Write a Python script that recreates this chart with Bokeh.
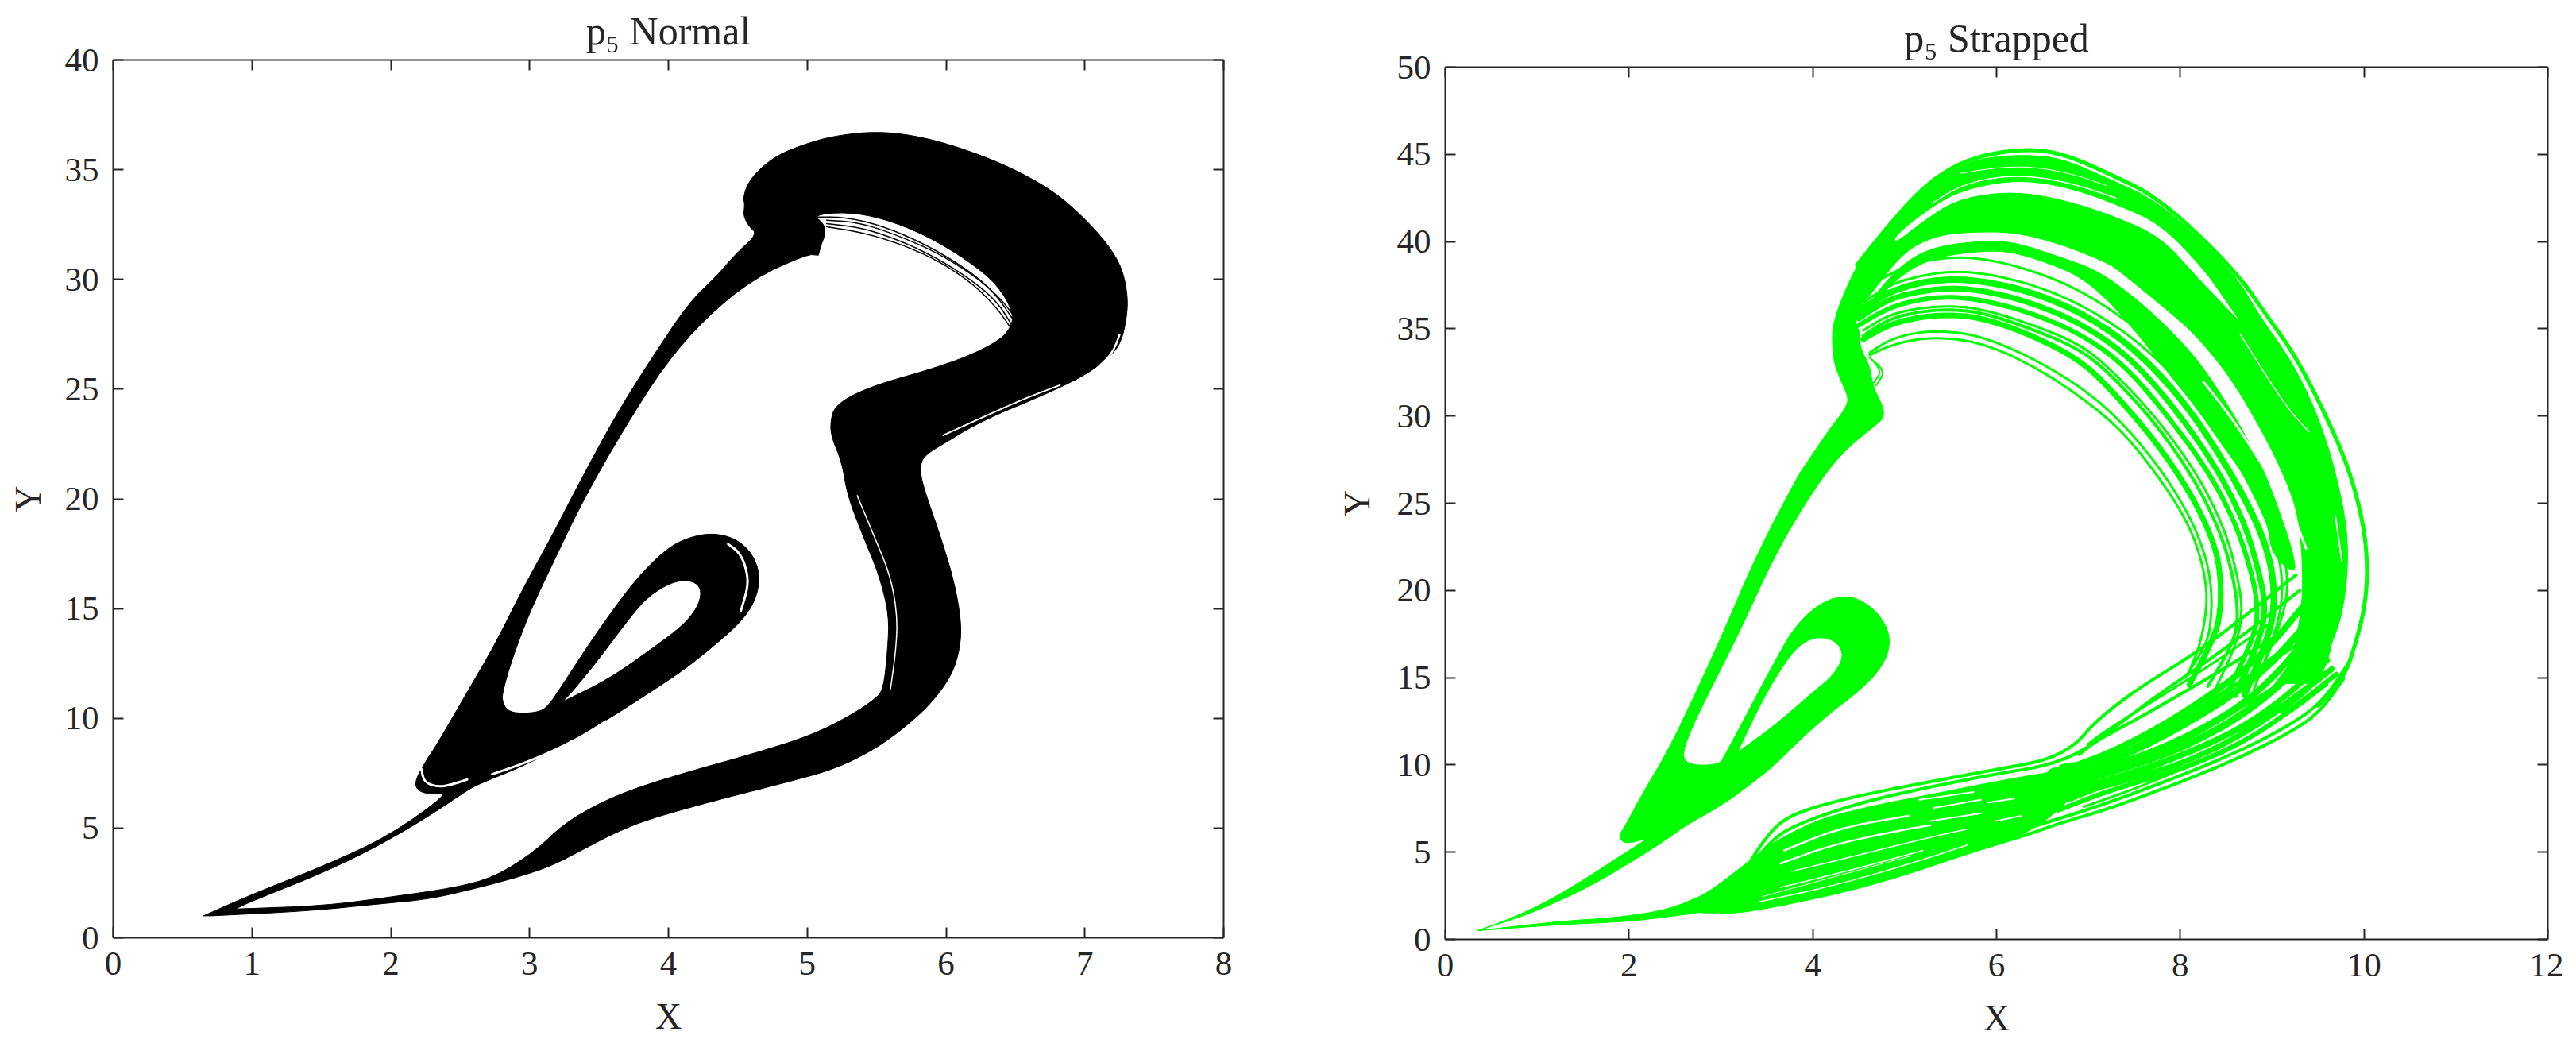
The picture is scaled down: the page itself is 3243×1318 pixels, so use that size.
from bokeh.embed import file_html
from bokeh.resources import INLINE
from bokeh.layouts import row, column
from bokeh.models import Range1d, LinearAxis, FixedTicker, Title
from bokeh.plotting import figure

FONT = "Liberation Serif"
INK = "#262626"
GREEN = "#00ff00"

# ---------- left panel: p5 Normal (outline of the saturated band)
normal_outer = [
    (0.65,1.0),(0.65,1.0),(0.65,1.0),(1.0,1.98),(1.52,3.28),(1.99,4.65),(2.42,6.6),(2.30,6.54),(2.2,6.66),(2.17,7.08),(2.24,7.93),
    (2.34,8.89),(2.55,11.19),(2.75,13.36),(2.95,15.89),(3.16,18.3),(3.36,20.76),(3.62,23.8),(3.86,26.23),
    (4.15,28.97),(4.34,30.1),(4.49,31.2),(4.64,32.06),(4.58,32.42),(4.54,32.9),(4.55,33.39),
    (4.54,33.75),(4.57,34.35),(4.65,35.0),(4.79,35.68),(4.98,36.16),(5.18,36.52),(5.45,36.73),(5.69,36.64),
    (5.96,36.28),(6.27,35.62),(6.53,34.9),(6.78,33.99),(6.98,32.9),(7.17,31.58),(7.27,30.49),(7.31,29.2),
    (7.3,28.2),(7.26,27.1),(7.17,26.4),(6.98,25.55),(6.67,24.64),(6.37,23.86),(6.16,23.2),(6.02,22.65),
    (5.84,21.98),(5.81,21.37),(5.84,20.46),(5.96,18.3),(6.06,16.2),(6.11,14.38),(6.1,13.16),(6.04,11.95),
    (5.9,10.73),(5.72,9.67),(5.49,8.6),(5.2,7.69),(4.85,7.08),(4.32,6.23),(3.86,5.41),(3.62,4.8),(3.39,4.04),
    (3.16,3.28),(2.92,2.77),(2.63,2.28),(2.28,1.76),(1.93,1.55),(1.41,1.22),(0.71,1.0),(0.71,1.0)]
normal_hole_main = [
    (0.88,1.31),(0.88,1.31),(1.52,1.46),(1.99,1.85),(2.46,2.28),(2.75,2.77),(3.04,3.95),(3.24,5.16),(3.49,6.1),(3.77,6.84),
    (4.18,7.63),(4.59,8.35),(5.02,9.2),(5.31,10.12),(5.49,10.88),(5.55,11.34),(5.58,13.16),(5.59,14.68),
    (5.52,16.5),(5.4,18.33),(5.29,20.15),(5.25,21.67),(5.17,22.89),(5.17,23.62),(5.2,24.2),(5.33,24.76),
    (5.55,25.3),(5.86,25.85),(6.16,26.5),(6.37,27.17),(6.46,27.72),(6.49,28.44),(6.37,29.77),(6.16,30.85),
    (5.86,32.0),(5.55,32.78),(5.28,33.08),(5.04,32.93),(5.12,32.55),(5.13,32.06),(5.1,31.58),(5.08,31.1),(5.08,31.1),
    (5.0,31.15),(4.61,30.03),(4.26,28.2),(3.97,26.08),(3.68,23.2),(3.39,20.0),
    (3.16,16.98),(2.99,14.68),(2.87,12.63),(2.81,11.31),(2.8,10.82),(2.84,10.34),(2.93,10.22),
    (3.06,10.28),(3.13,10.52),(3.24,11.55),(3.4,13.12),(3.57,14.68),(3.77,16.37),(3.98,17.7),(4.14,18.24),
    (4.32,18.45),(4.49,18.18),(4.61,17.46),(4.66,16.49),(4.63,15.41),(4.53,14.44),(4.34,13.36),(4.1,12.15),
    (3.81,10.95),(3.57,9.98),(3.28,8.89),(2.95,7.81),(2.64,7.02),(2.55,6.72),(2.3,5.64),(1.93,4.25),(1.52,2.98),
    (1.0,1.67)]
normal_hole_loop = [
    (3.24,10.76),(3.24,10.76),(3.57,11.79),(3.87,13.12),(4.1,14.2),(4.21,15.05),(4.24,15.77),(4.2,16.19),(4.1,16.31),
    (3.98,16.07),(3.83,15.41),(3.69,14.32),(3.49,12.63),(3.32,11.31)]
normal_strands = [
    [(5.04,32.84),(5.28,32.84),(5.55,32.42),(5.86,31.58),(6.16,30.43),(6.35,29.4),(6.48,28.2)],
    [(5.14,32.54),(5.39,32.36),(5.65,31.82),(5.92,31.03),(6.18,30.0),(6.37,28.98),(6.47,27.96)],
    [(5.14,32.7),(5.37,32.6),(5.63,32.06),(5.92,31.28),(6.2,30.19),(6.39,29.16),(6.49,28.32)],
    [(5.14,32.4),(5.41,32.12),(5.69,31.58),(5.96,30.8),(6.2,29.77),(6.37,28.68),(6.46,27.84)]]
normal_gaps = [
    ([(4.43,17.94),(4.52,17.52),(4.57,16.61),(4.57,15.89),(4.52,14.87)], 3),
    ([(2.73,7.45),(2.95,7.93),(3.2,8.59),(3.4,9.26),(3.55,9.86)], 3),
    ([(2.22,7.69),(2.24,7.08),(2.34,6.87),(2.43,6.96),(2.55,7.21)], 3),
    ([(5.98,22.9),(6.27,23.74),(6.57,24.58),(6.82,25.18)], 2),
    ([(7.08,25.9),(7.2,26.63),(7.25,27.48)], 2.5),
    ([(5.36,20.15),(5.48,18.33),(5.6,16.5),(5.65,14.68),(5.64,13.16),(5.6,11.34)], 1.5)]

# ---------- right panel: p5 Strapped
strapped_left_outer = [
    (0.35,0.5),(0.35,0.5),(0.35,0.5),(0.7,1.16),(1.13,2.22),(1.56,3.59),(1.91,4.8),(2.23,5.86),(2.0,5.49),(1.91,5.64),(1.9,6.02),
    (1.97,6.62),(2.14,8.3),(2.43,10.87),(2.72,14.06),(3.01,17.4),(3.38,21.95),(3.85,26.7),(3.95,27.42),
    (4.14,28.94),(4.36,30.45),(4.39,31.06),(4.31,31.97),(4.22,33.19),(4.21,35.4),(4.5,35.4),(4.51,33.95),
    (4.62,32.88),(4.65,31.82),(4.7,31.21),(4.77,30.45),(4.77,29.92),(4.72,29.62),(4.48,28.63),(4.24,27.42),
    (3.94,25.2),(3.58,21.95),(3.21,17.7),(2.89,14.36),(2.72,12.54),(2.6,11.02),(2.59,10.27),(2.72,9.96),
    (2.98,10.04),(3.03,10.42),(3.29,13.0),(3.58,15.88),(3.81,18.0),(4.1,19.37),(4.39,19.75),(4.65,19.07),
    (4.82,17.85),(4.84,16.64),(4.73,15.43),(4.5,14.21),(4.16,12.85),(3.87,11.48),(3.58,9.96),(3.29,8.75),
    (3.01,7.69),(2.6,6.47),(2.49,6.02),(2.14,4.8),(1.56,2.98),(0.99,1.62),(0.7,1.08)]
strapped_loop_hole = [
    (3.18,10.72),(3.18,10.72),(3.58,12.24),(4.01,14.21),(4.22,15.12),(4.33,16.11),(4.3,16.79),(4.19,17.25),(4.01,17.32),
    (3.84,16.79),(3.7,15.88),(3.47,13.91)]
strapped_tail = [
    (0.35,0.5),(0.35,0.5),(1.25,1.04),(1.85,1.24),(2.43,1.69),(2.86,2.68),(2.9,1.62),(2.43,1.3),(2.0,1.02),(1.25,0.85)]
strapped_fan_body = [
    (2.6,2.05),(2.86,2.68),(3.24,4.2),(3.49,5.26),(3.73,6.02),(4.09,6.93),(4.68,7.69),(5.28,8.3),(6.07,9.13),(6.67,9.66),(6.87,9.5),
    (6.87,8.3),(6.35,6.02),(5.68,4.96),(4.88,3.52),(4.09,2.45),(3.29,1.62),(2.7,1.45)]
strapped_knot = [
    (6.5,9.7),(6.9,10.3),(7.1,9.5),(7.0,8.5),(6.8,7.8),(6.5,8.0)]
strapped_mass = [
    (4.21,34.4),(4.22,35.2),(4.31,36.7),(4.51,38.95),(4.82,40.85),(5.16,42.75),(5.5,44.11),(5.85,44.8),
    (6.29,44.98),(6.7,44.79),(7.2,43.66),(7.79,42.22),(8.57,38.34),(8.88,35.6),(9.17,33.48),(9.4,31.21),
    (9.6,28.48),(9.75,25.44),(9.82,23.17),(9.82,20.89),(9.76,18.61),(9.66,17.1),(9.46,14.67),(9.46,14.67),(9.15,14.67),(9.15,14.67),
    (9.26,17.1),(9.33,19.37),(9.33,21.65),(9.29,24.23),(9.14,26.5),(8.88,29.24),(8.54,32.27),(8.16,34.7),
    (7.79,36.37),(7.33,38.34),(7.2,38.8),(6.7,39.86),(6.19,40.55),(5.68,40.55),(5.33,40.32),(4.99,39.41),
    (4.65,37.13),(4.48,35.92),(4.45,34.4)]
strapped_band = [
    (4.55,35.4),(4.65,36.83),(4.99,38.8),(5.33,39.71),(5.85,40.05),(6.19,39.98),(6.7,39.1),(7.1,38.34),(7.5,36.82),(7.88,35.0),
    (8.22,33.03),(8.54,30.45),(8.77,28.32),(8.94,26.5),(9.12,23.92),(9.23,22.1),(9.26,20.89),(9.0,22.0),(8.95,23.92),
    (8.75,26.2),(8.5,28.02),(8.2,30.3),(7.9,32.27),(7.56,34.55),(7.21,36.67),(6.93,37.88),(6.7,38.5),(6.19,39.41),
    (5.85,39.48),(5.33,39.1),(4.99,38.2),(4.7,36.7)]
strapped_slit = [
    (4.9,40.3),(5.2,41.6),(5.55,42.75),(6.0,43.35),(6.4,43.42),(6.85,42.95),(7.3,42.1),(7.79,40.95),(8.25,38.4),
    (8.45,36.9),(8.62,35.6),(8.62,35.6),(8.2,37.9),(7.79,40.3),(7.3,41.45),(6.85,42.25),(6.4,42.78),(6.0,42.85),(5.55,42.4),
    (5.2,41.2),(4.9,39.95)]
strapped_gaps = [
    ([(5.3,42.2),(5.6,43.2),(6.0,43.72),(6.4,43.75),(6.85,43.3),(7.3,42.5)], 1.5),
    ([(5.6,43.9),(6.0,44.26),(6.4,44.3),(6.85,43.85),(7.2,43.2)], 1),
    ([(8.65,34.7),(9.14,30.6),(9.4,29.1)], 1.5),
    ([(8.77,29.39),(9.12,25.9),(9.37,22.4)], 3),
    ([(9.69,24.2),(9.76,21.65)], 2),
    ([(8.25,31.97),(8.57,29.84),(8.94,26.81)], 3),
    ([(2.62,10.72),(2.66,9.96),(2.77,9.58)], 2),
    ([(4.78,18.0),(4.81,16.79),(4.72,15.58)], 1.5),
    ([(1.94,6.09),(2.0,5.65),(2.2,5.57),(2.3,5.7)], 1.5),
    ([(3.69,5.1),(4.29,6.4),(5.04,7.08)], 2.5),
    ([(3.65,4.35),(4.2,5.41),(4.88,6.17),(5.28,6.55)], 2.5),
    ([(3.77,3.9),(4.48,4.8),(5.28,5.87),(5.68,6.32)], 1.5),
    ([(3.65,2.98),(4.48,4.05),(5.2,5.1)], 1.5),
    ([(3.41,2.15),(4.29,3.14),(5.16,4.5),(5.68,5.41)], 1.5),
    ([(3.45,2.45),(4.29,3.67),(5.08,4.8)], 1),
    ([(5.16,8.0),(5.75,8.45)], 2),
    ([(5.32,7.54),(5.83,8.0)], 2),
    ([(5.28,6.78),(5.83,7.23)], 2),
    ([(5.91,7.84),(6.19,8.07)], 2),
    ([(5.99,6.78),(6.27,7.08)], 2),
    ([(6.39,9.66),(6.67,9.96)], 3)]
strapped_arcs = [
    ([(4.48,38.65),(4.82,40.9),(5.16,42.9),(5.5,44.26),(5.85,44.95),(6.29,45.3),(6.7,45.1),(7.2,43.96),(7.79,42.44),
      (8.6,38.34),(8.94,35.76),(9.23,33.64),(9.52,30.75),(9.81,27.4),(9.98,24.23),(10.04,21.65),(10.02,19.37),
      (9.92,17.1),(9.78,14.97),(9.5,13.4)], 5),
    ([(4.62,33.49),(4.82,34.0),(5.1,34.4),(5.44,34.5),(5.85,34.17),(6.36,33.0),(6.87,31.29),(7.36,29.23),(7.79,26.35),
      (8.08,23.92),(8.22,21.95),(8.29,20.13),(8.28,18.61),(8.21,16.79),(8.1,15.4)], 3),
    ([(4.62,33.64),(4.82,34.33),(5.1,34.78),(5.44,34.89),(5.85,34.55),(6.36,33.41),(6.925,31.66),(7.36,29.69),(7.79,26.96),
      (8.11,24.23),(8.28,21.95),(8.34,20.13),(8.34,18.61),(8.3,17.0),(8.05,15.0)], 3),
    ([(4.55,34.4),(4.82,35.23),(5.16,35.69),(5.5,35.81),(5.85,35.61),(6.36,34.7),(6.925,33.18),(7.3,31.21),(7.79,28.17),
      (8.16,25.14),(8.37,22.71),(8.44,20.89),(8.44,18.92),(8.38,17.4),(8.1,14.6)], 7),
    ([(4.55,34.6),(4.82,35.55),(5.16,36.0),(5.5,36.12),(5.85,35.92),(6.36,35.05),(6.925,33.8),(7.3,32.1),(7.79,29.2),
      (8.19,26.05),(8.45,23.17),(8.57,20.89),(8.63,18.92),(8.6,17.2),(8.3,14.5)], 4),
    ([(4.55,34.9),(4.82,35.8),(5.16,36.2),(5.5,36.32),(5.85,36.12),(6.36,35.3),(6.925,34.1),(7.3,32.4),(7.79,29.6),
      (8.22,26.4),(8.5,23.3),(8.62,20.9),(8.68,18.9),(8.62,17.0),(8.35,14.0)], 3),
    ([(4.5,35.2),(4.82,36.2),(5.16,36.7),(5.5,36.85),(5.85,36.65),(6.36,35.95),(6.925,34.7),(7.4,32.9),(7.85,30.1),
      (8.3,26.9),(8.6,23.9),(8.78,21.0),(8.85,18.9),(8.8,17.3),(8.5,14.0)], 6),
    ([(4.5,35.6),(4.82,36.7),(5.16,37.15),(5.5,37.35),(5.85,37.2),(6.36,36.55),(6.925,35.3),(7.45,33.4),(7.95,30.4),
      (8.4,27.0),(8.7,23.9),(8.85,21.2),(8.93,19.2),(8.88,17.4),(8.6,14.0)], 7),
    ([(4.5,36.0),(4.82,37.1),(5.16,37.65),(5.5,37.85),(5.85,37.75),(6.36,37.15),(6.925,35.95),(7.5,33.9),(8.05,30.8),
      (8.5,27.2),(8.82,24.1),(8.98,21.8),(9.03,19.6),(8.98,17.6),(8.7,14.0)], 8),
    ([(4.5,36.3),(4.82,37.5),(5.16,38.05),(5.5,38.3),(5.85,38.2),(6.36,37.6),(6.925,36.4),(7.55,34.3),(8.13,31.2),
      (8.6,27.6),(8.92,24.3),(9.08,22.0),(9.12,19.8),(9.05,17.8),(8.8,14.3)], 3),
    ([(4.55,37.2),(4.85,38.2),(5.16,38.85),(5.5,39.1),(5.85,39.05),(6.36,38.4),(6.925,37.2),(7.55,35.0),(8.13,32.0),
      (8.6,28.5),(8.95,24.9),(9.12,22.5),(9.18,20.2),(9.1,18.2),(8.85,15.0)], 3),
    ([(4.62,33.34),(4.79,32.58),(4.69,31.75)], 2),
    ([(4.65,33.2),(4.75,32.55),(4.66,31.9)], 2),
    ([(8.95,14.0),(9.3,16.4),(9.52,20.0),(9.5,24.0),(9.25,28.0)], 4),
    ([(9.1,13.0),(9.55,15.0),(9.68,18.0),(9.7,21.0),(9.6,25.0)], 4)]
strapped_fan = [
    ([(3.29,4.2),(3.45,5.56),(3.65,6.78),(3.93,7.46),(4.48,8.22),(5.28,9.05),(6.07,9.81),(6.55,10.27),(6.87,11.18),
      (7.03,12.24),(7.3,13.45),(7.63,14.67),(8.19,16.49),(8.65,18.31),(9.26,20.89)], 4),
    ([(3.29,3.9),(3.5,5.4),(3.75,6.45),(4.48,7.8),(5.28,8.75),(6.07,9.55),(6.55,9.95),(6.95,10.8),(7.3,12.2),(7.7,13.8),
      (8.2,15.6),(8.7,17.5),(9.3,20.0)], 4),
    ([(6.67,9.6),(7.3,10.8),(8.06,13.0),(8.85,16.0),(9.4,19.5)], 8),
    ([(6.67,9.3),(7.26,10.2),(8.06,12.3),(8.85,15.0),(9.45,18.5)], 9),
    ([(6.67,9.0),(7.26,9.9),(8.06,11.5),(8.85,14.0),(9.5,18.0)], 8),
    ([(6.67,8.7),(7.26,9.6),(8.06,11.0),(8.85,13.4),(9.55,17.0)], 9),
    ([(6.67,8.4),(7.26,9.2),(8.06,10.6),(8.85,12.6),(9.6,16.0)], 7),
    ([(6.67,8.1),(7.26,8.9),(8.06,10.1),(8.85,12.2),(9.65,15.5)], 7),
    ([(6.67,7.4),(7.26,8.6),(8.06,9.8),(8.85,11.7),(9.7,15.2)], 6),
    ([(3.0,1.55),(3.29,1.62),(4.09,2.45),(4.88,3.52),(5.68,4.96),(6.35,6.02),(6.67,6.63),(7.26,7.54),(8.06,9.13),
      (8.65,10.42),(9.17,11.79),(9.52,13.0),(9.78,14.97)], 4),
    ([(3.0,1.6),(4.09,2.6),(4.88,3.7),(5.68,5.2),(6.35,6.4),(6.67,6.9),(7.26,7.9),(8.06,9.5),(8.65,10.8),(9.17,12.2),
      (9.55,13.6),(9.85,16.0)], 4),
    ([(6.87,9.3),(7.26,10.27),(8.06,12.85),(8.85,15.43),(9.5,17.7)], 4),
    ([(6.87,9.0),(7.26,9.5),(8.06,11.33),(8.85,13.9),(9.52,16.03)], 4),
    ([(6.9,10.6),(7.07,11.33),(7.66,13.0),(8.45,15.43),(9.05,17.4)], 4),
    ([(7.0,11.2),(7.18,11.94),(7.78,13.91),(8.38,15.88),(9.0,18.2)], 3),
    ([(6.9,8.2),(7.6,9.6),(8.4,11.3),(9.0,13.0),(9.5,15.0)], 4),
    ([(6.95,7.6),(7.7,9.0),(8.5,10.9),(9.1,12.6),(9.6,14.6)], 3),
    ([(7.0,10.0),(7.6,11.3),(8.3,13.4),(8.95,15.9),(9.4,18.0)], 3),
    ([(7.1,9.7),(7.9,12.0),(8.6,14.5),(9.2,17.0)], 3)]


def xy(points):
    return [p[0] for p in points], [p[1] for p in points]


def rounded(points):
    """Cut the corners of a traced outline so that its facets do not show; repeated vertices stay sharp."""
    for _ in range(2):
        out = []
        n = len(points)
        for i in range(n):
            a, b = points[i], points[(i + 1) % n]
            out.append((0.75 * a[0] + 0.25 * b[0], 0.75 * a[1] + 0.25 * b[1]))
            out.append((0.25 * a[0] + 0.75 * b[0], 0.25 * a[1] + 0.75 * b[1]))
        points = out
    return points


def make_panel(title, xmax, ymax, xticks, yticks, fw, fh, left, right, top, bottom, ylabel_standoff):
    p = figure(frame_width=fw, frame_height=fh, output_backend="svg", toolbar_location=None,
               x_range=Range1d(0, xmax), y_range=Range1d(0, ymax), x_axis_label="X", y_axis_label="Y",
               min_border_left=left, min_border_right=right, min_border_top=top, min_border_bottom=bottom,
               background_fill_color="white", border_fill_color="white")
    p.grid.visible = False
    p.outline_line_color = None
    for ax, ticks in ((p.xaxis[0], xticks), (p.yaxis[0], yticks)):
        ax.ticker = FixedTicker(ticks=ticks)
        ax.major_label_text_font = FONT
        ax.major_label_text_font_size = "43px"
        ax.major_label_text_color = INK
        ax.axis_label_text_font = FONT
        ax.axis_label_text_font_size = "46px"
        ax.axis_label_text_font_style = "normal"
        ax.axis_label_text_color = INK
        ax.major_label_standoff = 18
    p.xaxis[0].axis_label_standoff = 24
    p.yaxis[0].axis_label_standoff = ylabel_standoff
    for place, ticks in (("above", xticks), ("right", yticks)):
        ax = LinearAxis(ticker=FixedTicker(ticks=ticks), major_label_overrides={t: "" for t in ticks})
        ax.major_label_text_font_size = "1px"
        ax.major_label_standoff = 0
        p.add_layout(ax, place)
    for ax in p.axis:
        ax.axis_line_color = INK
        ax.axis_line_width = 2
        ax.major_tick_line_color = INK
        ax.major_tick_line_width = 2
        ax.major_tick_in = 13
        ax.major_tick_out = 0
        ax.minor_tick_line_color = None
    p.add_layout(Title(text=title, align="center", text_font=FONT, text_font_size="50px", text_font_style="normal",
                       text_color=INK, standoff=17), "above")
    return p


def polygon(p, outer, holes, color):
    xo, yo = xy(rounded(outer))
    hx = [xy(rounded(h))[0] for h in holes]
    hy = [xy(rounded(h))[1] for h in holes]
    p.multi_polygons(xs=[[[xo] + hx]], ys=[[[yo] + hy]], fill_color=color, line_color=color, line_width=1)


def stroke(p, points, color, width):
    """A smooth line through the read positions: each one is the control point of a quadratic."""
    x, y = xy(points)
    if len(points) < 3:
        p.line(x, y, line_color=color, line_width=width, line_cap="round")
        return
    mx = [(a + b) / 2 for a, b in zip(x, x[1:])]
    my = [(a + b) / 2 for a, b in zip(y, y[1:])]
    p.line([x[0], mx[0]], [y[0], my[0]], line_color=color, line_width=width, line_cap="round")
    p.line([mx[-1], x[-1]], [my[-1], y[-1]], line_color=color, line_width=width, line_cap="round")
    p.quadratic(x0=mx[:-1], y0=my[:-1], x1=mx[1:], y1=my[1:], cx=x[1:-1], cy=y[1:-1],
                line_color=color, line_width=width, line_cap="round")


p1 = make_panel("p₅ Normal", 8, 40, list(range(0, 9)), list(range(0, 41, 5)),
                1398, 1105, 142, 129, 74, 131, 18)
polygon(p1, normal_outer, [normal_hole_main, normal_hole_loop], "black")
for pts, w in normal_gaps:
    stroke(p1, pts, "white", w)
for pts in normal_strands:
    stroke(p1, pts, "black", 1.5)

p2 = make_panel("p₅ Strapped", 12, 50, list(range(0, 13, 2)), list(range(0, 51, 5)),
                1388, 1098, 150, 20, 84, 128, 22)
polygon(p2, strapped_mass, [], GREEN)
polygon(p2, strapped_slit, [], "white")
polygon(p2, strapped_band, [], GREEN)
polygon(p2, strapped_fan_body, [], GREEN)
polygon(p2, strapped_knot, [], GREEN)
for pts, w in strapped_gaps:
    stroke(p2, pts, "white", w)
polygon(p2, strapped_left_outer, [strapped_loop_hole], GREEN)
polygon(p2, strapped_tail, [], GREEN)
for pts, w in strapped_arcs + strapped_fan:
    stroke(p2, pts, GREEN, w)

page = row(column(p1), column(p2), spacing=0)
open("out.html", "w").write(file_html(page, INLINE))
